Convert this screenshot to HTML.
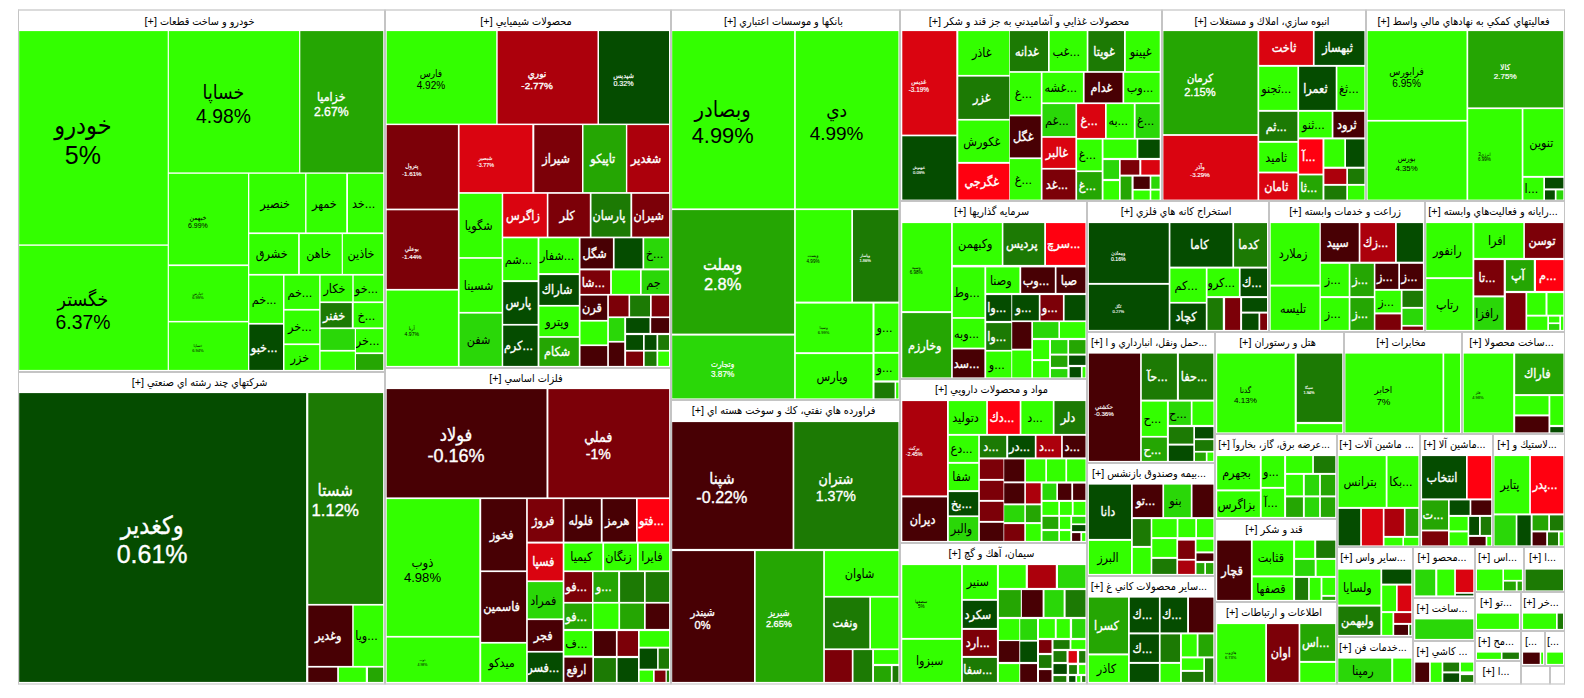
<!DOCTYPE html>
<html lang="fa"><head><meta charset="utf-8"><title>Market Map</title>
<style>
html,body{margin:0;padding:0;background:#fff;}
body{width:1584px;height:698px;position:relative;overflow:hidden;font-family:"Liberation Sans","DejaVu Sans Condensed","DejaVu Sans",sans-serif;font-stretch:condensed;direction:ltr;}
.s{position:absolute;box-sizing:border-box;border:1px solid #c4c4c4;background:#fff;}
.h{position:absolute;left:-4px;right:0;top:-1px;height:21px;line-height:21px;text-align:center;font-size:10.8px;color:#000;white-space:nowrap;overflow:hidden;}
.c{position:absolute;display:flex;flex-direction:column;align-items:center;justify-content:center;overflow:hidden;white-space:nowrap;text-align:center;color:#fff;-webkit-text-stroke:0.35px #fff;font-size:12.5px;line-height:1.2;}
.d{color:#000;-webkit-text-stroke:0;}
p{margin:0;display:flex;flex-direction:column;align-items:center;position:relative;}
.p{left:-10.5px;top:3px;}
.n{left:-2px;top:1px;}
.G5{fill:#33ff00;}
.G4{fill:#2ad708;}
.G3{fill:#25a603;}
.G2{fill:#1c7a04;}
.G1{fill:#054c00;}
.R0{fill:#480004;}
.R1{fill:#7c0008;}
.R2{fill:#ac000c;}
.R3{fill:#da0410;}
.R4{fill:#ff0010;}
</style></head><body>
<div class="s" style="left:18px;top:9px;width:367px;height:363px;border-top:2px solid #dbdbdb"><div class="h" style="top:-0.5px">[+] خودرو و ساخت قطعات</div></div>
<div class="s" style="left:18px;top:372px;width:367px;height:313px;border-bottom:2px solid #dedede"><div class="h">[+] شركتهاي چند رشته اي صنعتي</div></div>
<div class="s" style="left:385px;top:9px;width:286px;height:359px;border-top:2px solid #dbdbdb"><div class="h" style="top:-0.5px">[+] محصولات شيميايي</div></div>
<div class="s" style="left:385px;top:368px;width:286px;height:317px;border-bottom:2px solid #dedede"><div class="h">[+] فلزات اساسي</div></div>
<div class="s" style="left:671px;top:9px;width:229px;height:391px;border-top:2px solid #dbdbdb"><div class="h" style="top:-0.5px">[+] بانكها و موسسات اعتباري</div></div>
<div class="s" style="left:671px;top:400px;width:229px;height:285px;border-bottom:2px solid #dedede"><div class="h">[+] فراورده هاي نفتي، كك و سوخت هسته اي</div></div>
<div class="s" style="left:900px;top:9px;width:262px;height:192px;border-top:2px solid #dbdbdb"><div class="h" style="top:-0.5px">[+] محصولات غذايي و آشاميدني به جز قند و شكر</div></div>
<div class="s" style="left:1162px;top:9px;width:204px;height:192px;border-top:2px solid #dbdbdb"><div class="h" style="top:-0.5px">[+] انبوه سازي، املاك و مستغلات</div></div>
<div class="s" style="left:1366px;top:9px;width:199px;height:192px;border-top:2px solid #dbdbdb"><div class="h" style="top:-0.5px">[+] فعاليتهاي كمكي به نهادهاي مالي واسط</div></div>
<div class="s" style="left:900px;top:201px;width:187px;height:178px"><div class="h">[+] سرمايه گذاريها</div></div>
<div class="s" style="left:1087px;top:201px;width:182px;height:131px"><div class="h">[+] استخراج كانه هاي فلزي</div></div>
<div class="s" style="left:1269px;top:201px;width:156px;height:131px"><div class="h">[+] زراعت و خدمات وابسته</div></div>
<div class="s" style="left:1425px;top:201px;width:140px;height:131px"><div class="h">[+] رايانه و فعاليت‌هاي وابسته...</div></div>
<div class="s" style="left:1087px;top:332px;width:128px;height:131px"><div class="h" style="font-size:10.4px">[+] حمل ونقل، انبارداري و ا...</div></div>
<div class="s" style="left:1215px;top:332px;width:129px;height:102px"><div class="h">[+] هتل و رستوران</div></div>
<div class="s" style="left:1344px;top:332px;width:118px;height:102px"><div class="h">[+] مخابرات</div></div>
<div class="s" style="left:1462px;top:332px;width:103px;height:102px"><div class="h">[+] ساخت محصولا...</div></div>
<div class="s" style="left:900px;top:379px;width:187px;height:164px"><div class="h">[+] مواد و محصولات دارويي</div></div>
<div class="s" style="left:900px;top:543px;width:187px;height:142px;border-bottom:2px solid #dedede"><div class="h">[+] سيمان، آهك و گچ</div></div>
<div class="s" style="left:1087px;top:463px;width:128px;height:113px"><div class="h">[+] بيمه وصندوق بازنشس...</div></div>
<div class="s" style="left:1087px;top:576px;width:128px;height:109px;border-bottom:2px solid #dedede"><div class="h">[+] ساير محصولات كاني غ...</div></div>
<div class="s" style="left:1215px;top:434px;width:122px;height:85px"><div class="h" style="font-size:10.4px">[+] عرضه برق، گاز، بخاروآ...</div></div>
<div class="s" style="left:1215px;top:519px;width:122px;height:83px"><div class="h">[+] قند و شكر</div></div>
<div class="s" style="left:1215px;top:602px;width:122px;height:83px;border-bottom:2px solid #dedede"><div class="h">[+] اطلاعات و ارتباطات</div></div>
<div class="s" style="left:1337px;top:434px;width:83px;height:113px"><div class="h">[+] ماشين آلات ...</div></div>
<div class="s" style="left:1420px;top:434px;width:73px;height:113px"><div class="h">[+] ماشين آلا...</div></div>
<div class="s" style="left:1493px;top:434px;width:72px;height:113px"><div class="h">[+] لاستيك و...</div></div>
<div class="s" style="left:1337px;top:547px;width:76px;height:90px"><div class="h">[+] ساير واس...</div></div>
<div class="s" style="left:1337px;top:637px;width:76px;height:48px;border-bottom:2px solid #dedede"><div class="h">[+] خدمات فن...</div></div>
<div class="s" style="left:1413px;top:547px;width:62px;height:51px"><div class="h">[+] محصو...</div></div>
<div class="s" style="left:1413px;top:598px;width:62px;height:43px"><div class="h">[+] ساخت...</div></div>
<div class="s" style="left:1413px;top:641px;width:62px;height:44px;border-bottom:2px solid #dedede"><div class="h">[+] كاشي ...</div></div>
<div class="s" style="left:1475px;top:547px;width:49px;height:45px"><div class="h">[+] اس...</div></div>
<div class="s" style="left:1524px;top:547px;width:41px;height:45px"><div class="h">[+] ا...</div></div>
<div class="s" style="left:1475px;top:592px;width:46px;height:39px"><div class="h">[+] تو...</div></div>
<div class="s" style="left:1521px;top:592px;width:44px;height:39px"><div class="h">[+] خر...</div></div>
<div class="s" style="left:1475px;top:631px;width:46px;height:30px"><div class="h">[+] مح...</div></div>
<div class="s" style="left:1521px;top:631px;width:24px;height:35px"><div class="h">[...</div></div>
<div class="s" style="left:1545px;top:631px;width:20px;height:35px"><div class="h">[...</div></div>
<div class="s" style="left:1475px;top:661px;width:46px;height:24px;border-bottom:2px solid #dedede"><div class="h">[+] ا...</div></div>
<div class="s" style="left:1521px;top:666px;width:29px;height:19px;border-bottom:2px solid #dedede"></div>
<div class="s" style="left:1550px;top:666px;width:15px;height:19px;border-bottom:2px solid #dedede"></div>
<svg width="1584" height="698" viewBox="0 0 1584 698" style="position:absolute;left:0;top:0">
<rect class="G5" x="19.2" y="31.1" width="148.5" height="213.3"/>
<rect class="G5" x="168.9" y="31.1" width="130.2" height="141.3"/>
<rect class="G3" x="300.3" y="31.1" width="82.9" height="141.3"/>
<rect class="G5" x="19.2" y="245.8" width="148.5" height="124.1"/>
<rect class="G5" x="168.9" y="173.8" width="79.1" height="90.6"/>
<rect class="G5" x="168.9" y="266.1" width="79.1" height="54.8"/>
<rect class="G5" x="168.9" y="322.4" width="79.1" height="47.5"/>
<rect class="G5" x="249.3" y="173.8" width="55.8" height="58.6"/>
<rect class="G5" x="306.5" y="173.8" width="39.7" height="58.6"/>
<rect class="G5" x="348.0" y="173.8" width="35.2" height="58.6"/>
<rect class="G5" x="249.3" y="234.1" width="48.8" height="39.8"/>
<rect class="G5" x="299.8" y="234.1" width="41.9" height="39.8"/>
<rect class="G5" x="342.9" y="234.1" width="40.2" height="39.8"/>
<rect class="G5" x="249.3" y="275.6" width="33.7" height="47.3"/>
<rect class="G5" x="284.5" y="275.6" width="34.7" height="33.3"/>
<rect class="G5" x="320.6" y="275.6" width="31.7" height="25.8"/>
<rect class="G5" x="353.7" y="275.6" width="29.5" height="25.8"/>
<rect class="G2" x="320.6" y="303.1" width="31.2" height="24.3"/>
<rect class="G5" x="353.7" y="303.1" width="29.5" height="24.3"/>
<rect class="G5" x="284.5" y="310.6" width="34.7" height="32.8"/>
<rect class="G5" x="284.5" y="345.1" width="34.7" height="24.8"/>
<rect class="G1" x="249.3" y="324.6" width="33.7" height="45.3"/>
<rect class="G4" x="320.6" y="329.1" width="34.2" height="20.8"/>
<rect class="G5" x="320.6" y="351.6" width="34.2" height="18.3"/>
<rect class="G5" x="356.0" y="329.1" width="27.2" height="23.3"/>
<rect class="G3" x="356.0" y="354.1" width="27.2" height="15.8"/>
<rect class="G1" x="19.2" y="393.1" width="286.9" height="288.8"/>
<rect class="G2" x="308.3" y="393.1" width="74.8" height="210.8"/>
<rect class="R0" x="308.3" y="605.6" width="43.9" height="60.3"/>
<rect class="G5" x="353.7" y="605.6" width="29.5" height="60.3"/>
<rect class="R0" x="308.3" y="667.6" width="28.9" height="14.3"/>
<rect class="G5" x="338.9" y="667.6" width="26.9" height="14.3"/>
<rect class="G3" x="368.0" y="667.6" width="15.1" height="14.3"/>
<rect class="G5" x="386.7" y="31.1" width="109.5" height="92.5"/>
<rect class="R2" x="497.7" y="31.1" width="99.8" height="92.5"/>
<rect class="G1" x="599.0" y="31.1" width="70.0" height="92.5"/>
<rect class="R1" x="386.7" y="125.1" width="71.2" height="83.5"/>
<rect class="R3" x="459.6" y="125.1" width="72.7" height="67.0"/>
<rect class="R1" x="534.3" y="125.1" width="47.7" height="67.0"/>
<rect class="G3" x="583.5" y="125.1" width="42.4" height="67.0"/>
<rect class="R2" x="627.3" y="125.1" width="41.7" height="67.0"/>
<rect class="R1" x="386.7" y="210.3" width="71.2" height="78.6"/>
<rect class="G5" x="386.7" y="290.6" width="71.2" height="75.3"/>
<rect class="G5" x="459.6" y="193.8" width="42.1" height="63.3"/>
<rect class="G5" x="459.6" y="258.8" width="42.1" height="53.1"/>
<rect class="G4" x="459.6" y="313.6" width="42.1" height="52.3"/>
<rect class="R3" x="503.2" y="193.8" width="43.6" height="42.8"/>
<rect class="R1" x="548.4" y="193.8" width="41.4" height="42.8"/>
<rect class="G2" x="591.5" y="193.8" width="38.9" height="42.8"/>
<rect class="R1" x="632.2" y="193.8" width="36.9" height="42.8"/>
<rect class="G5" x="503.2" y="238.3" width="34.4" height="41.8"/>
<rect class="G5" x="539.4" y="238.3" width="39.4" height="34.8"/>
<rect class="R0" x="580.5" y="238.3" width="32.4" height="30.1"/>
<rect class="G1" x="614.6" y="238.3" width="27.9" height="30.1"/>
<rect class="G4" x="644.2" y="238.3" width="24.9" height="30.1"/>
<rect class="R1" x="580.5" y="270.4" width="29.6" height="23.5"/>
<rect class="G5" x="611.9" y="270.4" width="28.1" height="23.5"/>
<rect class="G4" x="641.7" y="270.4" width="27.4" height="23.5"/>
<rect class="G1" x="503.2" y="282.1" width="34.4" height="41.8"/>
<rect class="G1" x="503.2" y="325.6" width="34.4" height="40.3"/>
<rect class="G1" x="539.4" y="275.1" width="39.4" height="29.8"/>
<rect class="G5" x="539.4" y="306.6" width="39.4" height="29.5"/>
<rect class="G3" x="539.4" y="337.8" width="39.4" height="28.1"/>
<rect class="R0" x="580.5" y="295.6" width="26.7" height="24.3"/>
<rect class="R1" x="608.9" y="295.6" width="19.6" height="20.8"/>
<rect class="G2" x="630.1" y="295.6" width="19.9" height="20.8"/>
<rect class="R1" x="651.7" y="295.6" width="17.4" height="20.8"/>
<rect class="G5" x="580.5" y="321.6" width="26.7" height="22.8"/>
<rect class="G4" x="608.9" y="318.1" width="15.3" height="22.8"/>
<rect class="G1" x="626.1" y="318.1" width="23.4" height="14.8"/>
<rect class="R0" x="651.2" y="318.1" width="17.9" height="14.8"/>
<rect class="R0" x="580.5" y="346.1" width="26.7" height="19.8"/>
<rect class="R0" x="608.9" y="342.6" width="15.3" height="23.3"/>
<rect class="G1" x="626.1" y="335.1" width="16.9" height="14.8"/>
<rect class="G1" x="644.7" y="335.1" width="11.8" height="14.8"/>
<rect class="G2" x="658.2" y="335.1" width="10.8" height="14.8"/>
<rect class="R1" x="626.1" y="351.6" width="16.9" height="14.3"/>
<rect class="G2" x="644.7" y="351.6" width="11.8" height="14.3"/>
<rect class="G5" x="658.2" y="351.6" width="10.8" height="14.3"/>
<rect class="R0" x="386.7" y="389.1" width="159.8" height="108.3"/>
<rect class="R1" x="548.4" y="389.1" width="120.7" height="108.3"/>
<rect class="G5" x="386.7" y="499.1" width="92.6" height="136.8"/>
<rect class="G5" x="386.7" y="637.6" width="92.6" height="44.3"/>
<rect class="R0" x="481.2" y="499.1" width="44.9" height="71.3"/>
<rect class="R0" x="481.2" y="572.1" width="44.9" height="69.8"/>
<rect class="G5" x="481.2" y="643.6" width="44.9" height="38.3"/>
<rect class="R1" x="527.8" y="499.1" width="34.9" height="42.5"/>
<rect class="R0" x="564.4" y="499.1" width="36.4" height="42.5"/>
<rect class="R0" x="602.6" y="499.1" width="33.4" height="42.5"/>
<rect class="R4" x="637.7" y="499.1" width="31.4" height="42.5"/>
<rect class="R3" x="527.8" y="543.6" width="34.9" height="36.8"/>
<rect class="G4" x="527.8" y="582.1" width="34.9" height="36.3"/>
<rect class="R0" x="527.8" y="620.1" width="34.9" height="30.8"/>
<rect class="G1" x="527.8" y="652.6" width="34.9" height="29.3"/>
<rect class="G5" x="564.4" y="543.6" width="37.9" height="26.8"/>
<rect class="G5" x="604.1" y="543.6" width="32.9" height="26.8"/>
<rect class="G5" x="638.7" y="543.6" width="30.4" height="26.8"/>
<rect class="R1" x="564.4" y="572.1" width="27.6" height="29.8"/>
<rect class="G3" x="593.5" y="572.1" width="24.6" height="29.8"/>
<rect class="G2" x="620.1" y="572.1" width="23.9" height="29.8"/>
<rect class="G2" x="645.7" y="572.1" width="23.4" height="29.8"/>
<rect class="G3" x="564.4" y="603.6" width="27.6" height="25.3"/>
<rect class="G5" x="593.5" y="603.6" width="24.9" height="25.3"/>
<rect class="G3" x="620.1" y="603.6" width="23.9" height="25.3"/>
<rect class="R0" x="645.7" y="603.6" width="23.4" height="25.3"/>
<rect class="G5" x="564.4" y="631.1" width="27.9" height="24.3"/>
<rect class="R0" x="594.0" y="631.1" width="21.9" height="24.8"/>
<rect class="R1" x="617.6" y="631.1" width="20.4" height="24.8"/>
<rect class="G5" x="639.7" y="631.1" width="29.4" height="15.6"/>
<rect class="G1" x="639.7" y="648.6" width="17.4" height="20.1"/>
<rect class="G2" x="658.7" y="648.6" width="10.3" height="20.1"/>
<rect class="R0" x="564.4" y="657.6" width="27.9" height="24.3"/>
<rect class="G2" x="594.0" y="658.1" width="21.9" height="23.8"/>
<rect class="G1" x="617.6" y="658.1" width="20.4" height="23.8"/>
<rect class="G5" x="639.7" y="670.6" width="13.3" height="11.3"/>
<rect class="R1" x="654.7" y="670.6" width="10.8" height="11.3"/>
<rect class="G2" x="666.8" y="670.6" width="2.3" height="11.3"/>
<rect class="G5" x="672.2" y="31.1" width="121.9" height="177.3"/>
<rect class="G5" x="795.8" y="31.1" width="102.6" height="177.3"/>
<rect class="G3" x="672.2" y="210.1" width="121.9" height="123.5"/>
<rect class="G4" x="672.2" y="335.6" width="121.9" height="62.8"/>
<rect class="G5" x="795.8" y="210.1" width="55.5" height="91.5"/>
<rect class="G2" x="853.0" y="210.1" width="45.4" height="91.5"/>
<rect class="G5" x="795.8" y="303.6" width="76.7" height="48.6"/>
<rect class="G5" x="874.5" y="303.6" width="23.9" height="48.3"/>
<rect class="G5" x="795.8" y="354.1" width="76.7" height="44.3"/>
<rect class="G5" x="874.5" y="353.8" width="23.9" height="26.6"/>
<rect class="G2" x="874.5" y="382.6" width="20.1" height="15.8"/>
<rect class="G5" x="896.1" y="382.6" width="2.3" height="15.8"/>
<rect class="R0" x="672.2" y="422.1" width="120.4" height="126.8"/>
<rect class="G2" x="794.3" y="422.1" width="104.1" height="126.8"/>
<rect class="R0" x="672.2" y="551.1" width="81.8" height="130.8"/>
<rect class="G3" x="755.7" y="551.1" width="67.5" height="130.8"/>
<rect class="G5" x="824.9" y="551.1" width="73.5" height="44.8"/>
<rect class="G2" x="824.9" y="597.6" width="44.4" height="50.8"/>
<rect class="G5" x="871.0" y="597.6" width="27.4" height="50.8"/>
<rect class="R1" x="824.9" y="650.1" width="26.9" height="31.8"/>
<rect class="G2" x="853.5" y="650.1" width="18.6" height="31.8"/>
<rect class="G5" x="874.0" y="650.1" width="24.4" height="13.8"/>
<rect class="G3" x="874.0" y="666.1" width="16.9" height="15.8"/>
<rect class="G2" x="892.6" y="666.1" width="5.8" height="15.8"/>
<rect class="R3" x="902.3" y="31.1" width="54.0" height="103.5"/>
<rect class="G1" x="902.3" y="136.3" width="54.0" height="63.3"/>
<rect class="G5" x="958.3" y="31.1" width="51.0" height="43.8"/>
<rect class="G2" x="958.3" y="76.6" width="51.0" height="42.3"/>
<rect class="G5" x="958.3" y="120.6" width="51.0" height="41.3"/>
<rect class="R4" x="958.3" y="163.8" width="51.0" height="35.8"/>
<rect class="G2" x="1009.9" y="31.1" width="38.1" height="40.0"/>
<rect class="G5" x="1049.7" y="31.1" width="37.0" height="40.0"/>
<rect class="G2" x="1088.4" y="31.1" width="35.6" height="40.0"/>
<rect class="G5" x="1125.8" y="31.1" width="33.9" height="40.0"/>
<rect class="G5" x="1009.9" y="72.8" width="30.9" height="41.8"/>
<rect class="R0" x="1009.9" y="116.3" width="30.9" height="41.1"/>
<rect class="G5" x="1009.9" y="159.1" width="30.9" height="40.5"/>
<rect class="G5" x="1042.5" y="72.8" width="40.4" height="29.6"/>
<rect class="R0" x="1084.6" y="72.8" width="37.9" height="29.6"/>
<rect class="G5" x="1124.2" y="72.8" width="35.4" height="29.6"/>
<rect class="G4" x="1042.5" y="104.1" width="32.9" height="32.0"/>
<rect class="R3" x="1077.1" y="104.1" width="27.9" height="33.8"/>
<rect class="G5" x="1106.7" y="104.1" width="27.1" height="33.8"/>
<rect class="G4" x="1135.6" y="104.1" width="24.1" height="33.8"/>
<rect class="R3" x="1042.5" y="137.8" width="32.9" height="30.1"/>
<rect class="R1" x="1042.5" y="169.6" width="32.9" height="30.0"/>
<rect class="G5" x="1077.1" y="139.6" width="24.6" height="30.8"/>
<rect class="G3" x="1077.1" y="172.1" width="24.6" height="27.5"/>
<rect class="G5" x="1103.5" y="139.6" width="33.1" height="18.3"/>
<rect class="G1" x="1138.3" y="139.6" width="21.4" height="18.3"/>
<rect class="G4" x="1103.5" y="160.1" width="15.5" height="18.8"/>
<rect class="R1" x="1120.7" y="160.1" width="18.6" height="14.5"/>
<rect class="R3" x="1141.3" y="160.1" width="18.4" height="14.5"/>
<rect class="G5" x="1103.5" y="181.1" width="15.5" height="18.5"/>
<rect class="G3" x="1120.7" y="176.6" width="10.8" height="23.0"/>
<rect class="R0" x="1133.6" y="176.6" width="16.1" height="12.3"/>
<rect class="G4" x="1151.3" y="176.6" width="8.3" height="12.1"/>
<rect class="G5" x="1133.6" y="190.6" width="16.1" height="9.0"/>
<rect class="G5" x="1151.3" y="190.6" width="8.3" height="9.0"/>
<rect class="G3" x="1163.4" y="31.1" width="94.1" height="103.0"/>
<rect class="R3" x="1163.4" y="135.9" width="94.1" height="63.7"/>
<rect class="R3" x="1259.2" y="31.1" width="53.7" height="33.8"/>
<rect class="G1" x="1314.6" y="31.1" width="49.8" height="33.8"/>
<rect class="G5" x="1259.2" y="66.8" width="38.2" height="43.1"/>
<rect class="G1" x="1299.1" y="66.8" width="36.6" height="43.1"/>
<rect class="G5" x="1337.4" y="66.8" width="26.9" height="43.1"/>
<rect class="G2" x="1259.2" y="111.8" width="38.2" height="29.1"/>
<rect class="G5" x="1299.1" y="111.8" width="32.6" height="25.6"/>
<rect class="R0" x="1333.4" y="111.8" width="30.9" height="25.6"/>
<rect class="G5" x="1259.2" y="142.8" width="38.2" height="28.8"/>
<rect class="R3" x="1259.2" y="173.4" width="38.2" height="26.2"/>
<rect class="R4" x="1299.1" y="139.4" width="23.4" height="34.2"/>
<rect class="G3" x="1299.1" y="175.4" width="23.4" height="24.2"/>
<rect class="G5" x="1324.4" y="139.4" width="19.9" height="27.3"/>
<rect class="G1" x="1346.0" y="139.4" width="18.4" height="27.3"/>
<rect class="R2" x="1324.4" y="168.8" width="21.9" height="15.1"/>
<rect class="G2" x="1348.0" y="168.8" width="16.4" height="15.1"/>
<rect class="G2" x="1324.4" y="185.8" width="21.9" height="13.8"/>
<rect class="G5" x="1348.0" y="185.8" width="16.4" height="13.8"/>
<rect class="G5" x="1367.7" y="31.1" width="98.8" height="88.8"/>
<rect class="G5" x="1367.7" y="121.6" width="98.8" height="78.0"/>
<rect class="G3" x="1468.2" y="31.1" width="95.1" height="76.3"/>
<rect class="G5" x="1468.2" y="109.1" width="53.5" height="90.5"/>
<rect class="G5" x="1523.4" y="109.1" width="39.9" height="66.8"/>
<rect class="G5" x="1523.4" y="177.8" width="19.9" height="21.8"/>
<rect class="G1" x="1545.0" y="177.8" width="18.4" height="10.6"/>
<rect class="G1" x="1545.0" y="190.4" width="9.8" height="9.2"/>
<rect class="G4" x="1556.5" y="190.4" width="6.8" height="9.2"/>
<rect class="G5" x="902.3" y="223.1" width="48.8" height="88.0"/>
<rect class="G3" x="902.3" y="313.1" width="48.8" height="64.3"/>
<rect class="G5" x="952.8" y="223.1" width="49.0" height="41.8"/>
<rect class="G2" x="1003.4" y="223.1" width="40.8" height="41.8"/>
<rect class="R4" x="1046.0" y="223.1" width="39.4" height="41.8"/>
<rect class="G5" x="952.8" y="267.4" width="31.6" height="49.7"/>
<rect class="G5" x="952.8" y="318.8" width="31.6" height="28.8"/>
<rect class="R0" x="952.8" y="349.4" width="31.6" height="28.0"/>
<rect class="G5" x="986.2" y="267.4" width="33.2" height="25.5"/>
<rect class="R0" x="1021.2" y="267.4" width="33.6" height="25.5"/>
<rect class="R0" x="1056.5" y="267.4" width="28.9" height="25.5"/>
<rect class="G1" x="986.2" y="295.1" width="25.1" height="25.8"/>
<rect class="G1" x="1012.2" y="295.1" width="26.6" height="25.3"/>
<rect class="R1" x="1040.5" y="295.1" width="22.4" height="25.3"/>
<rect class="G1" x="1064.6" y="295.1" width="20.9" height="25.3"/>
<rect class="G2" x="986.2" y="323.1" width="25.1" height="26.8"/>
<rect class="G5" x="986.2" y="351.6" width="25.1" height="25.8"/>
<rect class="R0" x="1012.2" y="322.1" width="19.1" height="26.6"/>
<rect class="G5" x="1012.2" y="350.6" width="19.1" height="26.8"/>
<rect class="G4" x="1033.0" y="322.1" width="25.4" height="15.8"/>
<rect class="G5" x="1060.0" y="322.1" width="25.4" height="15.8"/>
<rect class="G5" x="1033.0" y="340.1" width="16.1" height="19.0"/>
<rect class="G5" x="1033.0" y="361.1" width="16.1" height="16.3"/>
<rect class="G4" x="1051.0" y="340.1" width="16.4" height="13.5"/>
<rect class="G3" x="1069.1" y="340.1" width="16.4" height="13.5"/>
<rect class="G3" x="1051.0" y="355.6" width="16.4" height="11.3"/>
<rect class="G1" x="1069.1" y="355.6" width="16.4" height="9.3"/>
<rect class="G4" x="1051.0" y="369.1" width="16.4" height="8.3"/>
<rect class="G1" x="1069.6" y="367.1" width="11.3" height="10.3"/>
<rect class="G5" x="1082.6" y="367.1" width="2.8" height="10.3"/>
<rect class="G1" x="1088.9" y="223.1" width="79.8" height="59.8"/>
<rect class="G1" x="1088.9" y="284.8" width="79.8" height="45.1"/>
<rect class="G1" x="1170.4" y="223.1" width="62.0" height="43.5"/>
<rect class="G2" x="1234.1" y="223.1" width="32.9" height="43.5"/>
<rect class="G5" x="1170.4" y="268.6" width="35.4" height="33.3"/>
<rect class="G1" x="1170.4" y="303.6" width="35.4" height="26.3"/>
<rect class="G5" x="1207.5" y="268.6" width="31.4" height="27.5"/>
<rect class="G1" x="1240.6" y="268.6" width="26.4" height="27.5"/>
<rect class="G2" x="1207.5" y="298.1" width="15.3" height="31.8"/>
<rect class="R1" x="1225.1" y="298.1" width="15.0" height="31.8"/>
<rect class="G1" x="1242.1" y="298.1" width="24.9" height="13.5"/>
<rect class="G1" x="1242.1" y="313.6" width="16.4" height="16.3"/>
<rect class="R1" x="1260.2" y="313.6" width="6.8" height="16.3"/>
<rect class="G5" x="1270.7" y="223.1" width="48.8" height="61.5"/>
<rect class="G5" x="1270.7" y="286.6" width="48.8" height="43.3"/>
<rect class="R0" x="1320.8" y="223.1" width="37.9" height="38.6"/>
<rect class="R2" x="1360.4" y="223.1" width="34.6" height="38.6"/>
<rect class="G1" x="1396.8" y="223.1" width="26.1" height="38.6"/>
<rect class="G5" x="1320.8" y="263.8" width="27.9" height="32.3"/>
<rect class="G3" x="1350.4" y="263.8" width="23.4" height="32.3"/>
<rect class="R0" x="1375.4" y="263.8" width="22.9" height="25.1"/>
<rect class="R0" x="1400.0" y="263.8" width="22.9" height="25.1"/>
<rect class="G5" x="1320.8" y="298.1" width="27.9" height="31.8"/>
<rect class="G3" x="1350.4" y="298.1" width="23.4" height="31.8"/>
<rect class="G5" x="1375.4" y="290.8" width="25.4" height="21.6"/>
<rect class="G2" x="1402.5" y="290.8" width="20.4" height="16.1"/>
<rect class="G4" x="1402.5" y="308.8" width="20.4" height="16.1"/>
<rect class="R1" x="1402.5" y="326.6" width="20.4" height="3.3"/>
<rect class="R1" x="1375.4" y="314.4" width="25.4" height="15.5"/>
<rect class="G5" x="1426.3" y="223.1" width="46.2" height="54.1"/>
<rect class="G5" x="1426.3" y="279.1" width="46.2" height="50.8"/>
<rect class="G5" x="1474.3" y="223.1" width="49.0" height="34.8"/>
<rect class="R1" x="1524.9" y="223.1" width="38.4" height="34.8"/>
<rect class="R1" x="1474.3" y="260.1" width="29.4" height="35.3"/>
<rect class="G4" x="1474.3" y="297.4" width="29.4" height="32.5"/>
<rect class="G3" x="1505.9" y="260.1" width="27.9" height="30.8"/>
<rect class="R4" x="1536.0" y="260.1" width="27.4" height="30.8"/>
<rect class="R1" x="1505.9" y="293.1" width="19.6" height="36.8"/>
<rect class="G5" x="1527.2" y="293.1" width="18.3" height="21.6"/>
<rect class="G5" x="1547.5" y="293.1" width="15.8" height="21.6"/>
<rect class="G5" x="1527.2" y="316.6" width="20.1" height="13.3"/>
<rect class="G5" x="1549.0" y="316.6" width="10.3" height="5.8"/>
<rect class="G4" x="1549.0" y="324.1" width="10.3" height="5.8"/>
<rect class="G5" x="1561.0" y="316.6" width="2.3" height="13.3"/>
<rect class="R0" x="1088.9" y="353.6" width="51.2" height="107.3"/>
<rect class="G2" x="1141.8" y="353.6" width="35.1" height="46.0"/>
<rect class="G2" x="1178.9" y="353.6" width="34.4" height="46.0"/>
<rect class="G5" x="1141.8" y="401.6" width="25.1" height="34.3"/>
<rect class="G3" x="1141.8" y="437.6" width="25.1" height="23.3"/>
<rect class="G4" x="1168.9" y="401.6" width="21.9" height="23.3"/>
<rect class="G5" x="1192.5" y="401.6" width="20.9" height="23.3"/>
<rect class="G2" x="1168.9" y="427.1" width="24.4" height="16.5"/>
<rect class="G1" x="1195.0" y="427.1" width="18.4" height="11.3"/>
<rect class="G1" x="1168.9" y="445.6" width="24.4" height="15.3"/>
<rect class="G2" x="1195.0" y="440.1" width="18.4" height="10.8"/>
<rect class="G3" x="1195.0" y="452.6" width="10.8" height="8.3"/>
<rect class="G5" x="1207.5" y="452.6" width="5.8" height="8.3"/>
<rect class="G5" x="1217.2" y="353.6" width="77.5" height="78.8"/>
<rect class="G2" x="1296.8" y="353.6" width="45.4" height="68.3"/>
<rect class="G5" x="1296.8" y="424.1" width="45.4" height="8.3"/>
<rect class="G5" x="1345.4" y="353.6" width="97.1" height="78.8"/>
<rect class="G5" x="1444.2" y="353.6" width="15.8" height="78.8"/>
<rect class="G5" x="1463.7" y="353.6" width="49.5" height="78.8"/>
<rect class="G3" x="1515.2" y="353.6" width="48.2" height="40.5"/>
<rect class="G5" x="1515.2" y="396.1" width="33.3" height="18.3"/>
<rect class="R0" x="1515.2" y="416.4" width="33.3" height="16.0"/>
<rect class="G5" x="1550.3" y="396.1" width="13.0" height="28.8"/>
<rect class="G1" x="1550.3" y="427.1" width="13.0" height="5.3"/>
<rect class="R2" x="902.3" y="401.1" width="44.7" height="94.3"/>
<rect class="R0" x="902.3" y="497.4" width="44.7" height="43.5"/>
<rect class="G5" x="948.8" y="401.1" width="37.4" height="32.8"/>
<rect class="R4" x="987.9" y="401.1" width="31.8" height="32.8"/>
<rect class="G5" x="1021.4" y="401.1" width="31.4" height="32.8"/>
<rect class="G2" x="1054.5" y="401.1" width="30.9" height="32.8"/>
<rect class="G5" x="948.8" y="435.8" width="29.4" height="26.1"/>
<rect class="G5" x="948.8" y="463.8" width="29.4" height="26.3"/>
<rect class="G1" x="948.8" y="492.1" width="29.4" height="23.3"/>
<rect class="G4" x="948.8" y="517.1" width="29.4" height="23.8"/>
<rect class="G2" x="979.9" y="435.8" width="26.3" height="21.6"/>
<rect class="G1" x="1008.2" y="435.8" width="26.6" height="21.6"/>
<rect class="R2" x="1036.5" y="435.8" width="24.6" height="21.6"/>
<rect class="R0" x="1062.8" y="435.8" width="22.7" height="21.6"/>
<rect class="R1" x="979.9" y="459.4" width="23.6" height="19.5"/>
<rect class="R1" x="979.9" y="480.8" width="23.6" height="19.1"/>
<rect class="R1" x="979.9" y="501.8" width="23.6" height="19.1"/>
<rect class="R0" x="979.9" y="522.8" width="23.6" height="18.1"/>
<rect class="R0" x="1004.2" y="459.4" width="20.1" height="22.0"/>
<rect class="G5" x="1025.9" y="459.4" width="19.4" height="22.0"/>
<rect class="G5" x="1047.0" y="459.4" width="18.4" height="22.0"/>
<rect class="G5" x="1067.1" y="459.4" width="18.4" height="22.0"/>
<rect class="R0" x="1004.2" y="483.3" width="20.1" height="20.1"/>
<rect class="R2" x="1025.9" y="483.3" width="14.8" height="20.1"/>
<rect class="G4" x="1042.5" y="483.6" width="13.8" height="16.3"/>
<rect class="R0" x="1058.0" y="483.6" width="13.3" height="16.3"/>
<rect class="R0" x="1073.1" y="483.6" width="12.3" height="16.3"/>
<rect class="G4" x="1004.2" y="505.3" width="20.1" height="16.8"/>
<rect class="G3" x="1025.9" y="505.3" width="14.8" height="16.8"/>
<rect class="G5" x="1042.5" y="501.9" width="15.8" height="13.0"/>
<rect class="G5" x="1060.0" y="501.9" width="11.8" height="13.0"/>
<rect class="G5" x="1073.6" y="501.9" width="11.8" height="13.0"/>
<rect class="R1" x="1004.2" y="524.1" width="20.1" height="16.8"/>
<rect class="G5" x="1025.9" y="524.1" width="14.8" height="16.8"/>
<rect class="G3" x="1042.5" y="516.8" width="15.8" height="12.1"/>
<rect class="G5" x="1060.0" y="516.8" width="10.3" height="12.1"/>
<rect class="G4" x="1072.1" y="516.8" width="13.3" height="6.6"/>
<rect class="G1" x="1072.1" y="525.1" width="13.3" height="6.0"/>
<rect class="G4" x="1042.5" y="531.1" width="15.8" height="9.8"/>
<rect class="G5" x="1060.0" y="531.1" width="10.3" height="9.8"/>
<rect class="R0" x="1072.1" y="533.1" width="8.3" height="7.8"/>
<rect class="G5" x="1082.1" y="533.1" width="3.3" height="7.8"/>
<rect class="G5" x="902.3" y="565.1" width="58.8" height="72.8"/>
<rect class="G5" x="902.3" y="639.8" width="58.8" height="42.1"/>
<rect class="G5" x="962.8" y="565.1" width="34.1" height="33.8"/>
<rect class="G1" x="962.8" y="600.8" width="34.1" height="27.1"/>
<rect class="R1" x="962.8" y="629.9" width="34.1" height="26.0"/>
<rect class="G2" x="962.8" y="657.9" width="34.1" height="24.0"/>
<rect class="G5" x="998.9" y="565.1" width="26.8" height="22.8"/>
<rect class="R2" x="1027.9" y="565.1" width="27.9" height="22.8"/>
<rect class="G4" x="1058.0" y="565.1" width="27.4" height="22.8"/>
<rect class="G3" x="998.9" y="590.1" width="21.9" height="26.8"/>
<rect class="R0" x="1021.9" y="590.1" width="20.7" height="26.8"/>
<rect class="G4" x="1044.5" y="590.1" width="19.1" height="26.8"/>
<rect class="G2" x="1065.6" y="590.1" width="19.9" height="26.8"/>
<rect class="G5" x="998.9" y="619.1" width="20.4" height="20.8"/>
<rect class="G4" x="1020.2" y="619.1" width="16.8" height="20.8"/>
<rect class="G5" x="1039.0" y="619.1" width="15.8" height="18.8"/>
<rect class="G5" x="1056.7" y="619.1" width="13.1" height="18.8"/>
<rect class="G4" x="1072.1" y="619.1" width="13.3" height="18.8"/>
<rect class="R0" x="998.9" y="641.1" width="20.4" height="20.8"/>
<rect class="G1" x="1020.2" y="641.6" width="16.8" height="20.3"/>
<rect class="R1" x="1039.0" y="640.1" width="12.5" height="12.8"/>
<rect class="G2" x="1053.5" y="640.1" width="16.1" height="8.8"/>
<rect class="G5" x="1071.4" y="640.1" width="14.0" height="8.8"/>
<rect class="G2" x="1053.5" y="651.1" width="13.0" height="10.8"/>
<rect class="R3" x="1068.6" y="651.1" width="8.3" height="11.6"/>
<rect class="G2" x="1079.1" y="651.1" width="6.3" height="11.6"/>
<rect class="G2" x="1039.0" y="655.1" width="12.5" height="12.8"/>
<rect class="G1" x="1053.5" y="664.1" width="13.3" height="9.8"/>
<rect class="G2" x="1069.1" y="665.1" width="7.8" height="8.8"/>
<rect class="G5" x="1079.1" y="665.1" width="6.3" height="8.8"/>
<rect class="G5" x="998.9" y="664.1" width="20.4" height="17.8"/>
<rect class="R0" x="1020.2" y="664.1" width="16.8" height="17.8"/>
<rect class="R0" x="1039.0" y="670.1" width="12.5" height="11.8"/>
<rect class="G2" x="1053.5" y="676.1" width="12.8" height="5.8"/>
<rect class="G1" x="1069.1" y="676.1" width="6.3" height="5.8"/>
<rect class="G5" x="1077.1" y="676.1" width="3.3" height="5.8"/>
<rect class="G2" x="1082.1" y="676.1" width="3.3" height="5.8"/>
<rect class="G1" x="1088.9" y="484.6" width="42.1" height="54.3"/>
<rect class="G5" x="1088.9" y="540.9" width="42.1" height="33.0"/>
<rect class="R0" x="1132.8" y="484.6" width="29.6" height="32.5"/>
<rect class="G4" x="1164.1" y="484.6" width="26.7" height="32.5"/>
<rect class="R0" x="1192.5" y="484.6" width="20.9" height="32.5"/>
<rect class="G2" x="1132.8" y="519.1" width="17.9" height="26.8"/>
<rect class="G5" x="1132.8" y="547.9" width="17.9" height="26.0"/>
<rect class="G5" x="1152.3" y="519.1" width="24.4" height="18.0"/>
<rect class="G5" x="1178.4" y="519.1" width="16.9" height="18.0"/>
<rect class="G5" x="1197.0" y="519.1" width="16.4" height="18.0"/>
<rect class="G5" x="1152.3" y="539.1" width="24.1" height="17.8"/>
<rect class="G2" x="1152.3" y="558.9" width="24.1" height="15.0"/>
<rect class="R1" x="1178.1" y="540.6" width="16.7" height="18.3"/>
<rect class="R2" x="1178.1" y="560.6" width="16.7" height="13.3"/>
<rect class="G5" x="1196.5" y="539.6" width="16.9" height="11.8"/>
<rect class="R0" x="1196.5" y="553.4" width="16.9" height="7.5"/>
<rect class="G3" x="1196.5" y="563.1" width="7.8" height="10.8"/>
<rect class="G3" x="1206.0" y="563.1" width="7.3" height="10.8"/>
<rect class="G3" x="1088.9" y="597.6" width="39.1" height="55.8"/>
<rect class="G5" x="1088.9" y="655.4" width="39.1" height="26.5"/>
<rect class="G1" x="1129.8" y="597.6" width="29.1" height="34.8"/>
<rect class="G1" x="1160.6" y="597.6" width="26.5" height="34.8"/>
<rect class="R0" x="1189.0" y="597.6" width="24.4" height="34.8"/>
<rect class="G1" x="1129.8" y="634.4" width="29.1" height="27.5"/>
<rect class="G1" x="1129.8" y="663.9" width="29.1" height="18.0"/>
<rect class="G2" x="1160.6" y="634.4" width="19.4" height="27.5"/>
<rect class="G5" x="1181.9" y="634.4" width="14.8" height="22.0"/>
<rect class="G3" x="1198.5" y="634.4" width="14.8" height="22.0"/>
<rect class="G5" x="1160.6" y="663.9" width="19.4" height="18.0"/>
<rect class="G5" x="1181.9" y="658.4" width="21.4" height="11.5"/>
<rect class="G2" x="1181.9" y="671.9" width="21.4" height="10.0"/>
<rect class="G2" x="1205.0" y="658.4" width="8.3" height="23.5"/>
<rect class="G5" x="1217.2" y="456.1" width="42.7" height="33.3"/>
<rect class="G5" x="1217.2" y="491.4" width="42.7" height="25.5"/>
<rect class="G5" x="1261.7" y="456.1" width="22.4" height="30.8"/>
<rect class="G5" x="1261.7" y="488.8" width="22.4" height="28.1"/>
<rect class="G5" x="1286.1" y="456.1" width="26.1" height="16.8"/>
<rect class="G2" x="1313.9" y="456.1" width="21.4" height="16.8"/>
<rect class="G5" x="1286.1" y="474.9" width="16.8" height="20.5"/>
<rect class="G4" x="1304.8" y="474.9" width="14.3" height="20.5"/>
<rect class="G3" x="1320.9" y="474.9" width="14.3" height="20.5"/>
<rect class="G3" x="1286.1" y="497.4" width="16.8" height="19.5"/>
<rect class="G4" x="1304.8" y="497.4" width="14.3" height="19.5"/>
<rect class="G3" x="1320.9" y="497.4" width="14.3" height="19.5"/>
<rect class="R0" x="1217.2" y="540.6" width="33.7" height="59.3"/>
<rect class="G5" x="1252.7" y="540.6" width="40.4" height="34.8"/>
<rect class="G5" x="1252.7" y="577.4" width="40.4" height="22.5"/>
<rect class="G5" x="1295.1" y="540.6" width="19.1" height="17.3"/>
<rect class="G2" x="1316.2" y="540.6" width="19.1" height="17.3"/>
<rect class="G4" x="1295.1" y="559.9" width="19.6" height="16.0"/>
<rect class="G5" x="1316.6" y="559.9" width="18.7" height="16.0"/>
<rect class="G2" x="1295.1" y="577.9" width="13.0" height="22.0"/>
<rect class="G5" x="1309.8" y="577.9" width="10.8" height="22.0"/>
<rect class="G5" x="1322.4" y="577.9" width="12.8" height="17.0"/>
<rect class="G3" x="1322.4" y="596.8" width="12.8" height="3.1"/>
<rect class="G5" x="1217.2" y="624.1" width="48.0" height="57.8"/>
<rect class="R1" x="1267.0" y="624.1" width="31.6" height="57.8"/>
<rect class="G3" x="1300.3" y="624.1" width="34.9" height="36.8"/>
<rect class="G5" x="1300.3" y="662.9" width="34.9" height="19.0"/>
<rect class="G5" x="1338.6" y="456.1" width="47.1" height="50.8"/>
<rect class="G5" x="1387.5" y="456.1" width="30.9" height="50.8"/>
<rect class="G1" x="1338.6" y="508.9" width="21.6" height="36.5"/>
<rect class="R3" x="1361.9" y="508.9" width="20.9" height="36.5"/>
<rect class="R2" x="1384.5" y="508.9" width="19.4" height="27.0"/>
<rect class="G3" x="1405.5" y="508.9" width="12.8" height="27.0"/>
<rect class="G5" x="1384.5" y="537.8" width="17.9" height="7.6"/>
<rect class="G5" x="1404.0" y="537.8" width="14.3" height="7.6"/>
<rect class="G1" x="1422.1" y="456.1" width="43.9" height="42.3"/>
<rect class="R4" x="1467.7" y="456.1" width="23.4" height="42.3"/>
<rect class="G3" x="1422.1" y="500.4" width="25.9" height="29.2"/>
<rect class="R1" x="1422.1" y="531.4" width="25.9" height="14.0"/>
<rect class="G1" x="1449.7" y="500.4" width="19.9" height="14.5"/>
<rect class="R0" x="1471.3" y="500.4" width="19.9" height="14.5"/>
<rect class="G5" x="1449.7" y="516.9" width="17.9" height="13.5"/>
<rect class="G1" x="1469.2" y="516.9" width="9.8" height="18.0"/>
<rect class="G2" x="1480.8" y="516.9" width="10.3" height="18.0"/>
<rect class="G5" x="1449.7" y="532.4" width="17.9" height="13.0"/>
<rect class="R0" x="1469.2" y="536.9" width="16.4" height="8.5"/>
<rect class="G5" x="1487.3" y="536.9" width="3.8" height="8.5"/>
<rect class="G5" x="1494.5" y="456.1" width="34.7" height="57.3"/>
<rect class="R4" x="1530.9" y="456.1" width="32.4" height="57.3"/>
<rect class="G4" x="1494.5" y="515.4" width="21.2" height="30.0"/>
<rect class="G1" x="1517.4" y="515.4" width="13.3" height="30.0"/>
<rect class="G3" x="1532.6" y="515.4" width="15.6" height="15.0"/>
<rect class="G2" x="1550.0" y="515.4" width="13.3" height="15.0"/>
<rect class="R0" x="1532.6" y="532.4" width="13.6" height="13.0"/>
<rect class="G2" x="1548.0" y="532.4" width="10.0" height="13.0"/>
<rect class="G5" x="1559.7" y="532.4" width="3.6" height="13.0"/>
<rect class="G5" x="1338.3" y="569.6" width="42.1" height="35.0"/>
<rect class="G2" x="1338.3" y="606.6" width="42.1" height="28.3"/>
<rect class="G1" x="1382.2" y="569.6" width="29.1" height="14.0"/>
<rect class="G5" x="1382.2" y="585.6" width="13.8" height="25.5"/>
<rect class="R3" x="1397.7" y="585.6" width="13.5" height="25.5"/>
<rect class="G5" x="1382.2" y="613.1" width="10.3" height="21.8"/>
<rect class="R2" x="1394.2" y="613.1" width="17.1" height="9.8"/>
<rect class="R0" x="1394.2" y="624.9" width="13.8" height="10.0"/>
<rect class="G2" x="1409.5" y="624.9" width="1.7" height="10.0"/>
<rect class="G4" x="1338.3" y="658.6" width="52.9" height="23.3"/>
<rect class="G5" x="1393.2" y="658.6" width="18.1" height="23.3"/>
<rect class="G4" x="1415.3" y="569.6" width="19.9" height="25.8"/>
<rect class="G5" x="1437.3" y="569.6" width="16.9" height="25.8"/>
<rect class="R3" x="1455.9" y="569.6" width="17.4" height="22.5"/>
<rect class="G1" x="1455.9" y="593.8" width="17.4" height="1.6"/>
<rect class="G4" x="1415.3" y="619.4" width="58.0" height="19.5"/>
<rect class="R0" x="1415.3" y="662.6" width="13.8" height="19.3"/>
<rect class="G5" x="1430.8" y="662.6" width="10.8" height="19.3"/>
<rect class="G2" x="1443.3" y="662.6" width="15.8" height="8.8"/>
<rect class="G5" x="1460.9" y="662.6" width="12.3" height="8.8"/>
<rect class="G1" x="1443.3" y="673.4" width="15.8" height="8.5"/>
<rect class="G2" x="1460.9" y="675.1" width="12.3" height="6.8"/>
<rect class="G5" x="1477.0" y="569.6" width="25.4" height="20.8"/>
<rect class="G5" x="1504.0" y="569.6" width="17.9" height="10.3"/>
<rect class="G3" x="1504.0" y="581.6" width="11.8" height="8.8"/>
<rect class="G3" x="1517.6" y="581.6" width="4.3" height="8.8"/>
<rect class="G2" x="1525.6" y="569.6" width="37.4" height="20.8"/>
<rect class="G5" x="1477.0" y="613.6" width="41.9" height="15.3"/>
<rect class="G5" x="1523.1" y="613.6" width="32.9" height="15.3"/>
<rect class="G2" x="1557.7" y="613.6" width="5.3" height="15.3"/>
<rect class="G5" x="1477.0" y="652.6" width="23.9" height="6.3"/>
<rect class="G2" x="1502.5" y="652.6" width="16.4" height="6.3"/>
<rect class="R0" x="1523.1" y="652.6" width="16.6" height="11.3"/>
<rect class="G5" x="1541.2" y="652.6" width="1.8" height="11.3"/>
<rect class="G5" x="1547.2" y="652.6" width="15.8" height="11.3"/>
</svg>
<div class="c d" style="left:19.2px;top:31.1px;width:148.5px;height:213.3px;font-size:24.99px"><p class="p"><span>خودرو</span><span>5%</span></p></div>
<div class="c d" style="left:168.9px;top:31.1px;width:130.2px;height:141.3px;font-size:19.38px"><p class="p"><span>خساپا</span><span>4.98%</span></p></div>
<div class="c" style="left:300.3px;top:31.1px;width:82.9px;height:141.3px;font-size:12.24px"><p class="p"><span>خزاميا</span><span>2.67%</span></p></div>
<div class="c d" style="left:19.2px;top:245.8px;width:148.5px;height:124.1px;font-size:19.38px"><p class="p"><span>خگستر</span><span>6.37%</span></p></div>
<div class="c d" style="left:168.9px;top:173.8px;width:79.1px;height:90.6px;font-size:6.99px"><p class="p"><span>خبهمن</span><span>6.99%</span></p></div>
<div class="c d" style="left:168.9px;top:266.1px;width:79.1px;height:54.8px;font-size:4.08px"><p class="p"><span>خپارس</span><span>6.99%</span></p></div>
<div class="c d" style="left:168.9px;top:322.4px;width:79.1px;height:47.5px;font-size:4.08px"><p class="p"><span>خساپا</span><span>6.94%</span></p></div>
<div class="c d" style="left:249.3px;top:173.8px;width:55.8px;height:58.6px"><p class="n"><span>خنصير</span></p></div>
<div class="c d" style="left:306.5px;top:173.8px;width:39.7px;height:58.6px"><p class="n"><span>خمهر</span></p></div>
<div class="c d" style="left:348.0px;top:173.8px;width:35.2px;height:58.6px"><p class="n"><span>خد...</span></p></div>
<div class="c d" style="left:249.3px;top:234.1px;width:48.8px;height:39.8px"><p class="n"><span>خشرق</span></p></div>
<div class="c d" style="left:299.8px;top:234.1px;width:41.9px;height:39.8px"><p class="n"><span>خاهن</span></p></div>
<div class="c d" style="left:342.9px;top:234.1px;width:40.2px;height:39.8px"><p class="n"><span>خاذين</span></p></div>
<div class="c d" style="left:249.3px;top:275.6px;width:33.7px;height:47.3px"><p class="n"><span>خم...</span></p></div>
<div class="c d" style="left:284.5px;top:275.6px;width:34.7px;height:33.3px"><p class="n"><span>خم...</span></p></div>
<div class="c d" style="left:320.6px;top:275.6px;width:31.7px;height:25.8px"><p class="n"><span>خكار</span></p></div>
<div class="c d" style="left:353.7px;top:275.6px;width:29.5px;height:25.8px"><p class="n"><span>خو...</span></p></div>
<div class="c" style="left:320.6px;top:303.1px;width:31.2px;height:24.3px"><p class="n"><span>خفنر</span></p></div>
<div class="c d" style="left:353.7px;top:303.1px;width:29.5px;height:24.3px"><p class="n"><span>خ...</span></p></div>
<div class="c d" style="left:284.5px;top:310.6px;width:34.7px;height:32.8px"><p class="n"><span>خر...</span></p></div>
<div class="c d" style="left:284.5px;top:345.1px;width:34.7px;height:24.8px"><p class="n"><span>خزر</span></p></div>
<div class="c" style="left:249.3px;top:324.6px;width:33.7px;height:45.3px"><p class="n"><span>خبو...</span></p></div>
<div class="c d" style="left:356.0px;top:329.1px;width:27.2px;height:23.3px"><p class="n"><span>خر...</span></p></div>
<div class="c" style="left:19.2px;top:393.1px;width:286.9px;height:288.8px;font-size:24.99px"><p class="p"><span>وكغدير</span><span>0.61%</span></p></div>
<div class="c" style="left:308.3px;top:393.1px;width:74.8px;height:210.8px;font-size:16.73px"><p class="p"><span>شستا</span><span>1.12%</span></p></div>
<div class="c" style="left:308.3px;top:605.6px;width:43.9px;height:60.3px"><p class="n"><span>وغدير</span></p></div>
<div class="c d" style="left:353.7px;top:605.6px;width:29.5px;height:60.3px"><p class="n"><span>ويا...</span></p></div>
<div class="c d" style="left:386.7px;top:31.1px;width:109.5px;height:92.5px;font-size:10.05px"><p class="p"><span>فارس</span><span>4.92%</span></p></div>
<div class="c" style="left:497.7px;top:31.1px;width:99.8px;height:92.5px;font-size:9.95px"><p class="p"><span>نوري</span><span>-2.77%</span></p></div>
<div class="c" style="left:599.0px;top:31.1px;width:70.0px;height:92.5px;font-size:7.14px;-webkit-text-stroke-width:0.18px"><p class="p"><span>شپديس</span><span>0.32%</span></p></div>
<div class="c" style="left:386.7px;top:125.1px;width:71.2px;height:83.5px;font-size:6.22px;-webkit-text-stroke-width:0.15px"><p class="p"><span>پترول</span><span>-1.61%</span></p></div>
<div class="c" style="left:459.6px;top:125.1px;width:72.7px;height:67.0px;font-size:5.41px;-webkit-text-stroke-width:0.13px"><p class="p"><span>شبصير</span><span>-3.77%</span></p></div>
<div class="c" style="left:534.3px;top:125.1px;width:47.7px;height:67.0px"><p class="n"><span>شيراز</span></p></div>
<div class="c" style="left:583.5px;top:125.1px;width:42.4px;height:67.0px"><p class="n"><span>تاپيكو</span></p></div>
<div class="c" style="left:627.3px;top:125.1px;width:41.7px;height:67.0px"><p class="n"><span>شغدير</span></p></div>
<div class="c" style="left:386.7px;top:210.3px;width:71.2px;height:78.6px;font-size:6.22px;-webkit-text-stroke-width:0.15px"><p class="p"><span>بوعلي</span><span>-1.44%</span></p></div>
<div class="c d" style="left:386.7px;top:290.6px;width:71.2px;height:75.3px;font-size:5.1px"><p class="p"><span>آريا</span><span>4.97%</span></p></div>
<div class="c d" style="left:459.6px;top:193.8px;width:42.1px;height:63.3px"><p class="n"><span>شگويا</span></p></div>
<div class="c d" style="left:459.6px;top:258.8px;width:42.1px;height:53.1px"><p class="n"><span>شسينا</span></p></div>
<div class="c d" style="left:459.6px;top:313.6px;width:42.1px;height:52.3px"><p class="n"><span>شفن</span></p></div>
<div class="c" style="left:503.2px;top:193.8px;width:43.6px;height:42.8px"><p class="n"><span>زاگرس</span></p></div>
<div class="c" style="left:548.4px;top:193.8px;width:41.4px;height:42.8px"><p class="n"><span>كلر</span></p></div>
<div class="c" style="left:591.5px;top:193.8px;width:38.9px;height:42.8px"><p class="n"><span>پارسان</span></p></div>
<div class="c" style="left:632.2px;top:193.8px;width:36.9px;height:42.8px"><p class="n"><span>شيران</span></p></div>
<div class="c d" style="left:503.2px;top:238.3px;width:34.4px;height:41.8px"><p class="n"><span>شم...</span></p></div>
<div class="c d" style="left:539.4px;top:238.3px;width:39.4px;height:34.8px"><p class="n"><span>شفار...</span></p></div>
<div class="c" style="left:580.5px;top:238.3px;width:32.4px;height:30.1px"><p class="n"><span>شگل</span></p></div>
<div class="c d" style="left:644.2px;top:238.3px;width:24.9px;height:30.1px"><p class="n"><span>خ...</span></p></div>
<div class="c" style="left:580.5px;top:270.4px;width:29.6px;height:23.5px"><p class="n"><span>شا...</span></p></div>
<div class="c d" style="left:641.7px;top:270.4px;width:27.4px;height:23.5px"><p class="n"><span>جم</span></p></div>
<div class="c" style="left:503.2px;top:282.1px;width:34.4px;height:41.8px"><p class="n"><span>پارس</span></p></div>
<div class="c" style="left:503.2px;top:325.6px;width:34.4px;height:40.3px"><p class="n"><span>كرم...</span></p></div>
<div class="c" style="left:539.4px;top:275.1px;width:39.4px;height:29.8px"><p class="n"><span>شاراك</span></p></div>
<div class="c d" style="left:539.4px;top:306.6px;width:39.4px;height:29.5px"><p class="n"><span>وپترو</span></p></div>
<div class="c" style="left:539.4px;top:337.8px;width:39.4px;height:28.1px"><p class="n"><span>شكام</span></p></div>
<div class="c" style="left:580.5px;top:295.6px;width:26.7px;height:24.3px"><p class="n"><span>قرن</span></p></div>
<div class="c" style="left:386.7px;top:389.1px;width:159.8px;height:108.3px;font-size:18.05px"><p class="p"><span>فولاد</span><span>-0.16%</span></p></div>
<div class="c" style="left:548.4px;top:389.1px;width:120.7px;height:108.3px;font-size:14.08px"><p class="p"><span>فملي</span><span>-1%</span></p></div>
<div class="c d" style="left:386.7px;top:499.1px;width:92.6px;height:136.8px;font-size:13.11px"><p class="p"><span>ذوب</span><span>4.98%</span></p></div>
<div class="c d" style="left:386.7px;top:637.6px;width:92.6px;height:44.3px;font-size:3.57px"><p class="p"><span>ذوب</span><span>4.98%</span></p></div>
<div class="c" style="left:481.2px;top:499.1px;width:44.9px;height:71.3px"><p class="n"><span>فخوز</span></p></div>
<div class="c" style="left:481.2px;top:572.1px;width:44.9px;height:69.8px"><p class="n"><span>فاسمين</span></p></div>
<div class="c d" style="left:481.2px;top:643.6px;width:44.9px;height:38.3px"><p class="n"><span>ميدكو</span></p></div>
<div class="c" style="left:527.8px;top:499.1px;width:34.9px;height:42.5px"><p class="n"><span>فروژ</span></p></div>
<div class="c" style="left:564.4px;top:499.1px;width:36.4px;height:42.5px"><p class="n"><span>فلوله</span></p></div>
<div class="c" style="left:602.6px;top:499.1px;width:33.4px;height:42.5px"><p class="n"><span>هرمز</span></p></div>
<div class="c" style="left:637.7px;top:499.1px;width:31.4px;height:42.5px"><p class="n"><span>فتو...</span></p></div>
<div class="c" style="left:527.8px;top:543.6px;width:34.9px;height:36.8px"><p class="n"><span>فسپا</span></p></div>
<div class="c d" style="left:527.8px;top:582.1px;width:34.9px;height:36.3px"><p class="n"><span>فمراد</span></p></div>
<div class="c" style="left:527.8px;top:620.1px;width:34.9px;height:30.8px"><p class="n"><span>فجر</span></p></div>
<div class="c" style="left:527.8px;top:652.6px;width:34.9px;height:29.3px"><p class="n"><span>فسر...</span></p></div>
<div class="c d" style="left:564.4px;top:543.6px;width:37.9px;height:26.8px"><p class="n"><span>كيميا</span></p></div>
<div class="c d" style="left:604.1px;top:543.6px;width:32.9px;height:26.8px"><p class="n"><span>زنگان</span></p></div>
<div class="c d" style="left:638.7px;top:543.6px;width:30.4px;height:26.8px"><p class="n"><span>فايرا</span></p></div>
<div class="c" style="left:564.4px;top:572.1px;width:27.6px;height:29.8px"><p class="n"><span>فو...</span></p></div>
<div class="c" style="left:593.5px;top:572.1px;width:24.6px;height:29.8px"><p class="n"><span>و...</span></p></div>
<div class="c" style="left:564.4px;top:603.6px;width:27.6px;height:25.3px"><p class="n"><span>فو...</span></p></div>
<div class="c d" style="left:564.4px;top:631.1px;width:27.9px;height:24.3px"><p class="n"><span>ف...</span></p></div>
<div class="c" style="left:564.4px;top:657.6px;width:27.9px;height:24.3px"><p class="n"><span>ارفع</span></p></div>
<div class="c d" style="left:672.2px;top:31.1px;width:121.9px;height:177.3px;font-size:21.83px"><p class="p"><span>وبصادر</span><span>4.99%</span></p></div>
<div class="c d" style="left:795.8px;top:31.1px;width:102.6px;height:177.3px;font-size:18.97px"><p class="p"><span>دي</span><span>4.99%</span></p></div>
<div class="c" style="left:672.2px;top:210.1px;width:121.9px;height:123.5px;font-size:16.42px"><p class="p"><span>وبملت</span><span>2.8%</span></p></div>
<div class="c" style="left:672.2px;top:335.6px;width:121.9px;height:62.8px;font-size:8.26px;-webkit-text-stroke-width:0.2px"><p class="p"><span>وتجارت</span><span>3.87%</span></p></div>
<div class="c d" style="left:795.8px;top:210.1px;width:55.5px;height:91.5px;font-size:4.59px"><p class="p"><span>وپست</span><span>4.99%</span></p></div>
<div class="c" style="left:853.0px;top:210.1px;width:45.4px;height:91.5px;font-size:4.08px;-webkit-text-stroke-width:0.1px"><p class="p"><span>وپاسار</span><span>1.86%</span></p></div>
<div class="c d" style="left:795.8px;top:303.6px;width:76.7px;height:48.6px;font-size:4.08px"><p class="p"><span>وسينا</span><span>6.99%</span></p></div>
<div class="c d" style="left:874.5px;top:303.6px;width:23.9px;height:48.3px"><p class="n"><span>و...</span></p></div>
<div class="c d" style="left:795.8px;top:354.1px;width:76.7px;height:44.3px"><p class="n"><span>وپارس</span></p></div>
<div class="c d" style="left:874.5px;top:353.8px;width:23.9px;height:26.6px"><p class="n"><span>و...</span></p></div>
<div class="c" style="left:672.2px;top:422.1px;width:120.4px;height:126.8px;font-size:16.12px"><p class="p"><span>شپنا</span><span>-0.22%</span></p></div>
<div class="c" style="left:794.3px;top:422.1px;width:104.1px;height:126.8px;font-size:14.18px"><p class="p"><span>شتران</span><span>1.37%</span></p></div>
<div class="c" style="left:672.2px;top:551.1px;width:81.8px;height:130.8px;font-size:11.02px"><p class="p"><span>شبندر</span><span>0%</span></p></div>
<div class="c" style="left:755.7px;top:551.1px;width:67.5px;height:130.8px;font-size:9.18px"><p class="p"><span>شبريز</span><span>2.65%</span></p></div>
<div class="c d" style="left:824.9px;top:551.1px;width:73.5px;height:44.8px"><p class="n"><span>شاوان</span></p></div>
<div class="c" style="left:824.9px;top:597.6px;width:44.4px;height:50.8px"><p class="n"><span>ونفت</span></p></div>
<div class="c" style="left:902.3px;top:31.1px;width:54.0px;height:103.5px;font-size:6.38px;-webkit-text-stroke-width:0.16px"><p class="p"><span>غديس</span><span>-3.19%</span></p></div>
<div class="c" style="left:902.3px;top:136.3px;width:54.0px;height:63.3px;font-size:4.08px;-webkit-text-stroke-width:0.1px"><p class="p"><span>غبهنوش</span><span>0.09%</span></p></div>
<div class="c d" style="left:958.3px;top:31.1px;width:51.0px;height:43.8px"><p class="n"><span>غاذر</span></p></div>
<div class="c" style="left:958.3px;top:76.6px;width:51.0px;height:42.3px"><p class="n"><span>غزر</span></p></div>
<div class="c d" style="left:958.3px;top:120.6px;width:51.0px;height:41.3px"><p class="n"><span>غكورش</span></p></div>
<div class="c" style="left:958.3px;top:163.8px;width:51.0px;height:35.8px"><p class="n"><span>غگرجي</span></p></div>
<div class="c" style="left:1009.9px;top:31.1px;width:38.1px;height:40.0px"><p class="n"><span>غدانه</span></p></div>
<div class="c d" style="left:1049.7px;top:31.1px;width:37.0px;height:40.0px"><p class="n"><span>غب...</span></p></div>
<div class="c" style="left:1088.4px;top:31.1px;width:35.6px;height:40.0px"><p class="n"><span>غويتا</span></p></div>
<div class="c d" style="left:1125.8px;top:31.1px;width:33.9px;height:40.0px"><p class="n"><span>غپينو</span></p></div>
<div class="c d" style="left:1009.9px;top:72.8px;width:30.9px;height:41.8px"><p class="n"><span>غ...</span></p></div>
<div class="c" style="left:1009.9px;top:116.3px;width:30.9px;height:41.1px"><p class="n"><span>غگل</span></p></div>
<div class="c d" style="left:1009.9px;top:159.1px;width:30.9px;height:40.5px"><p class="n"><span>غ...</span></p></div>
<div class="c d" style="left:1042.5px;top:72.8px;width:40.4px;height:29.6px"><p class="n"><span>غشه...</span></p></div>
<div class="c" style="left:1084.6px;top:72.8px;width:37.9px;height:29.6px"><p class="n"><span>غدام</span></p></div>
<div class="c d" style="left:1124.2px;top:72.8px;width:35.4px;height:29.6px"><p class="n"><span>وب...</span></p></div>
<div class="c d" style="left:1042.5px;top:104.1px;width:32.9px;height:32.0px"><p class="n"><span>غم...</span></p></div>
<div class="c" style="left:1077.1px;top:104.1px;width:27.9px;height:33.8px"><p class="n"><span>غ...</span></p></div>
<div class="c d" style="left:1106.7px;top:104.1px;width:27.1px;height:33.8px"><p class="n"><span>به...</span></p></div>
<div class="c d" style="left:1135.6px;top:104.1px;width:24.1px;height:33.8px"><p class="n"><span>غ...</span></p></div>
<div class="c" style="left:1042.5px;top:137.8px;width:32.9px;height:30.1px"><p class="n"><span>غالبر</span></p></div>
<div class="c" style="left:1042.5px;top:169.6px;width:32.9px;height:30.0px"><p class="n"><span>غد...</span></p></div>
<div class="c d" style="left:1077.1px;top:139.6px;width:24.6px;height:30.8px"><p class="n"><span>غ...</span></p></div>
<div class="c" style="left:1077.1px;top:172.1px;width:24.6px;height:27.5px"><p class="n"><span>غ...</span></p></div>
<div class="c" style="left:1163.4px;top:31.1px;width:94.1px;height:103.0px;font-size:11.12px"><p class="p"><span>كرمان</span><span>2.15%</span></p></div>
<div class="c" style="left:1163.4px;top:135.9px;width:94.1px;height:63.7px;font-size:6.22px;-webkit-text-stroke-width:0.15px"><p class="p"><span>وآذر</span><span>-3.29%</span></p></div>
<div class="c" style="left:1259.2px;top:31.1px;width:53.7px;height:33.8px"><p class="n"><span>ثاخت</span></p></div>
<div class="c" style="left:1314.6px;top:31.1px;width:49.8px;height:33.8px"><p class="n"><span>ثبهساز</span></p></div>
<div class="c d" style="left:1259.2px;top:66.8px;width:38.2px;height:43.1px"><p class="n"><span>ثجنو...</span></p></div>
<div class="c" style="left:1299.1px;top:66.8px;width:36.6px;height:43.1px"><p class="n"><span>ثعمرا</span></p></div>
<div class="c d" style="left:1337.4px;top:66.8px;width:26.9px;height:43.1px"><p class="n"><span>ثغ...</span></p></div>
<div class="c" style="left:1259.2px;top:111.8px;width:38.2px;height:29.1px"><p class="n"><span>ثم...</span></p></div>
<div class="c d" style="left:1299.1px;top:111.8px;width:32.6px;height:25.6px"><p class="n"><span>ثنو...</span></p></div>
<div class="c" style="left:1333.4px;top:111.8px;width:30.9px;height:25.6px"><p class="n"><span>ثرود</span></p></div>
<div class="c d" style="left:1259.2px;top:142.8px;width:38.2px;height:28.8px"><p class="n"><span>ثاميد</span></p></div>
<div class="c" style="left:1259.2px;top:173.4px;width:38.2px;height:26.2px"><p class="n"><span>ثامان</span></p></div>
<div class="c" style="left:1299.1px;top:139.4px;width:23.4px;height:34.2px"><p class="n"><span>آ...</span></p></div>
<div class="c" style="left:1299.1px;top:175.4px;width:23.4px;height:24.2px"><p class="n"><span>ثا...</span></p></div>
<div class="c d" style="left:1367.7px;top:31.1px;width:98.8px;height:88.8px;font-size:10.1px"><p class="p"><span>فرابورس</span><span>6.95%</span></p></div>
<div class="c d" style="left:1367.7px;top:121.6px;width:98.8px;height:78.0px;font-size:7.85px"><p class="p"><span>بورس</span><span>4.35%</span></p></div>
<div class="c" style="left:1468.2px;top:31.1px;width:95.1px;height:76.3px;font-size:8.06px;-webkit-text-stroke-width:0.2px"><p class="p"><span>كالا</span><span>2.75%</span></p></div>
<div class="c d" style="left:1468.2px;top:109.1px;width:53.5px;height:90.5px;font-size:4.59px"><p class="p"><span>انرژي3</span><span>6.99%</span></p></div>
<div class="c d" style="left:1523.4px;top:109.1px;width:39.9px;height:66.8px"><p class="n"><span>تنوين</span></p></div>
<div class="c d" style="left:1523.4px;top:177.8px;width:19.9px;height:21.8px"><p class="n"><span>ا...</span></p></div>
<div class="c d" style="left:902.3px;top:223.1px;width:48.8px;height:88.0px;font-size:4.59px"><p class="p"><span>وسپه</span><span>6.98%</span></p></div>
<div class="c" style="left:902.3px;top:313.1px;width:48.8px;height:64.3px"><p class="n"><span>وخارزم</span></p></div>
<div class="c d" style="left:952.8px;top:223.1px;width:49.0px;height:41.8px"><p class="n"><span>وكبهمن</span></p></div>
<div class="c" style="left:1003.4px;top:223.1px;width:40.8px;height:41.8px"><p class="n"><span>پرديس</span></p></div>
<div class="c" style="left:1046.0px;top:223.1px;width:39.4px;height:41.8px"><p class="n"><span>سرچ...</span></p></div>
<div class="c d" style="left:952.8px;top:267.4px;width:31.6px;height:49.7px"><p class="n"><span>وط...</span></p></div>
<div class="c d" style="left:952.8px;top:318.8px;width:31.6px;height:28.8px"><p class="n"><span>وبه...</span></p></div>
<div class="c" style="left:952.8px;top:349.4px;width:31.6px;height:28.0px"><p class="n"><span>سد...</span></p></div>
<div class="c d" style="left:986.2px;top:267.4px;width:33.2px;height:25.5px"><p class="n"><span>وصنا</span></p></div>
<div class="c" style="left:1021.2px;top:267.4px;width:33.6px;height:25.5px"><p class="n"><span>وب...</span></p></div>
<div class="c" style="left:1056.5px;top:267.4px;width:28.9px;height:25.5px"><p class="n"><span>صبا</span></p></div>
<div class="c" style="left:986.2px;top:295.1px;width:25.1px;height:25.8px"><p class="n"><span>وا...</span></p></div>
<div class="c" style="left:1012.2px;top:295.1px;width:26.6px;height:25.3px"><p class="n"><span>و...</span></p></div>
<div class="c" style="left:1040.5px;top:295.1px;width:22.4px;height:25.3px"><p class="n"><span>و...</span></p></div>
<div class="c" style="left:986.2px;top:323.1px;width:25.1px;height:26.8px"><p class="n"><span>وا...</span></p></div>
<div class="c d" style="left:986.2px;top:351.6px;width:25.1px;height:25.8px"><p class="n"><span>و...</span></p></div>
<div class="c" style="left:1088.9px;top:223.1px;width:79.8px;height:59.8px;font-size:5.2px;-webkit-text-stroke-width:0.13px"><p class="p"><span>ومعادن</span><span>0.16%</span></p></div>
<div class="c" style="left:1088.9px;top:284.8px;width:79.8px;height:45.1px;font-size:4.08px;-webkit-text-stroke-width:0.1px"><p class="p"><span>كگل</span><span>0.27%</span></p></div>
<div class="c" style="left:1170.4px;top:223.1px;width:62.0px;height:43.5px"><p class="n"><span>كاما</span></p></div>
<div class="c" style="left:1234.1px;top:223.1px;width:32.9px;height:43.5px"><p class="n"><span>كدما</span></p></div>
<div class="c d" style="left:1170.4px;top:268.6px;width:35.4px;height:33.3px"><p class="n"><span>كم...</span></p></div>
<div class="c" style="left:1170.4px;top:303.6px;width:35.4px;height:26.3px"><p class="n"><span>كچاد</span></p></div>
<div class="c d" style="left:1207.5px;top:268.6px;width:31.4px;height:27.5px"><p class="n"><span>كرو...</span></p></div>
<div class="c" style="left:1240.6px;top:268.6px;width:26.4px;height:27.5px"><p class="n"><span>ك...</span></p></div>
<div class="c d" style="left:1270.7px;top:223.1px;width:48.8px;height:61.5px"><p class="n"><span>زملارد</span></p></div>
<div class="c d" style="left:1270.7px;top:286.6px;width:48.8px;height:43.3px"><p class="n"><span>تليسه</span></p></div>
<div class="c" style="left:1320.8px;top:223.1px;width:37.9px;height:38.6px"><p class="n"><span>سپيد</span></p></div>
<div class="c" style="left:1360.4px;top:223.1px;width:34.6px;height:38.6px"><p class="n"><span>زك...</span></p></div>
<div class="c d" style="left:1320.8px;top:263.8px;width:27.9px;height:32.3px"><p class="n"><span>ز...</span></p></div>
<div class="c" style="left:1350.4px;top:263.8px;width:23.4px;height:32.3px"><p class="n"><span>ز...</span></p></div>
<div class="c" style="left:1375.4px;top:263.8px;width:22.9px;height:25.1px"><p class="n"><span>ز...</span></p></div>
<div class="c" style="left:1400.0px;top:263.8px;width:22.9px;height:25.1px"><p class="n"><span>ز...</span></p></div>
<div class="c d" style="left:1320.8px;top:298.1px;width:27.9px;height:31.8px"><p class="n"><span>ز...</span></p></div>
<div class="c" style="left:1350.4px;top:298.1px;width:23.4px;height:31.8px"><p class="n"><span>ز...</span></p></div>
<div class="c d" style="left:1375.4px;top:290.8px;width:25.4px;height:21.6px"><p class="n"><span>ز...</span></p></div>
<div class="c d" style="left:1426.3px;top:223.1px;width:46.2px;height:54.1px"><p class="n"><span>رانفور</span></p></div>
<div class="c d" style="left:1426.3px;top:279.1px;width:46.2px;height:50.8px"><p class="n"><span>رتاپ</span></p></div>
<div class="c d" style="left:1474.3px;top:223.1px;width:49.0px;height:34.8px"><p class="n"><span>افرا</span></p></div>
<div class="c" style="left:1524.9px;top:223.1px;width:38.4px;height:34.8px"><p class="n"><span>توسن</span></p></div>
<div class="c" style="left:1474.3px;top:260.1px;width:29.4px;height:35.3px"><p class="n"><span>تا...</span></p></div>
<div class="c d" style="left:1474.3px;top:297.4px;width:29.4px;height:32.5px"><p class="n"><span>رافزا</span></p></div>
<div class="c" style="left:1505.9px;top:260.1px;width:27.9px;height:30.8px"><p class="n"><span>آپ</span></p></div>
<div class="c" style="left:1536.0px;top:260.1px;width:27.4px;height:30.8px"><p class="n"><span>م...</span></p></div>
<div class="c" style="left:1088.9px;top:353.6px;width:51.2px;height:107.3px;font-size:6.22px;-webkit-text-stroke-width:0.15px"><p class="p"><span>حكشتي</span><span>-0.36%</span></p></div>
<div class="c" style="left:1141.8px;top:353.6px;width:35.1px;height:46.0px"><p class="n"><span>حآ...</span></p></div>
<div class="c" style="left:1178.9px;top:353.6px;width:34.4px;height:46.0px"><p class="n"><span>حفا...</span></p></div>
<div class="c d" style="left:1141.8px;top:401.6px;width:25.1px;height:34.3px"><p class="n"><span>ح...</span></p></div>
<div class="c" style="left:1141.8px;top:437.6px;width:25.1px;height:23.3px"><p class="n"><span>ح...</span></p></div>
<div class="c d" style="left:1168.9px;top:401.6px;width:21.9px;height:23.3px"><p class="n"><span>ح...</span></p></div>
<div class="c d" style="left:1217.2px;top:353.6px;width:77.5px;height:78.8px;font-size:8.06px"><p class="p"><span>گدنا</span><span>4.13%</span></p></div>
<div class="c" style="left:1296.8px;top:353.6px;width:45.4px;height:68.3px;font-size:3.88px;-webkit-text-stroke-width:0.1px"><p class="p"><span>سمگا</span><span>1.94%</span></p></div>
<div class="c d" style="left:1345.4px;top:353.6px;width:97.1px;height:78.8px;font-size:9.69px"><p class="p"><span>اخابر</span><span>7%</span></p></div>
<div class="c d" style="left:1463.7px;top:353.6px;width:49.5px;height:78.8px;font-size:4.08px"><p class="p"><span>فلز</span><span>4.98%</span></p></div>
<div class="c" style="left:1515.2px;top:353.6px;width:48.2px;height:40.5px"><p class="n"><span>فاراك</span></p></div>
<div class="c" style="left:902.3px;top:401.1px;width:44.7px;height:94.3px;font-size:5.3px;-webkit-text-stroke-width:0.13px"><p class="p"><span>بركت</span><span>-2.45%</span></p></div>
<div class="c" style="left:902.3px;top:497.4px;width:44.7px;height:43.5px"><p class="n"><span>ديران</span></p></div>
<div class="c d" style="left:948.8px;top:401.1px;width:37.4px;height:32.8px"><p class="n"><span>دتوليد</span></p></div>
<div class="c" style="left:987.9px;top:401.1px;width:31.8px;height:32.8px"><p class="n"><span>دك...</span></p></div>
<div class="c d" style="left:1021.4px;top:401.1px;width:31.4px;height:32.8px"><p class="n"><span>د...</span></p></div>
<div class="c" style="left:1054.5px;top:401.1px;width:30.9px;height:32.8px"><p class="n"><span>دلر</span></p></div>
<div class="c d" style="left:948.8px;top:435.8px;width:29.4px;height:26.1px"><p class="n"><span>دع...</span></p></div>
<div class="c d" style="left:948.8px;top:463.8px;width:29.4px;height:26.3px"><p class="n"><span>شفا</span></p></div>
<div class="c" style="left:948.8px;top:492.1px;width:29.4px;height:23.3px"><p class="n"><span>بخ...</span></p></div>
<div class="c d" style="left:948.8px;top:517.1px;width:29.4px;height:23.8px"><p class="n"><span>والبر</span></p></div>
<div class="c" style="left:979.9px;top:435.8px;width:26.3px;height:21.6px"><p class="n"><span>د...</span></p></div>
<div class="c" style="left:1008.2px;top:435.8px;width:26.6px;height:21.6px"><p class="n"><span>در...</span></p></div>
<div class="c" style="left:1036.5px;top:435.8px;width:24.6px;height:21.6px"><p class="n"><span>د...</span></p></div>
<div class="c" style="left:1062.8px;top:435.8px;width:22.7px;height:21.6px"><p class="n"><span>د...</span></p></div>
<div class="c d" style="left:902.3px;top:565.1px;width:58.8px;height:72.8px;font-size:4.59px"><p class="p"><span>سصفها</span><span>5%</span></p></div>
<div class="c d" style="left:902.3px;top:639.8px;width:58.8px;height:42.1px"><p class="n"><span>سبزوا</span></p></div>
<div class="c d" style="left:962.8px;top:565.1px;width:34.1px;height:33.8px"><p class="n"><span>سنير</span></p></div>
<div class="c" style="left:962.8px;top:600.8px;width:34.1px;height:27.1px"><p class="n"><span>سكرد</span></p></div>
<div class="c" style="left:962.8px;top:629.9px;width:34.1px;height:26.0px"><p class="n"><span>ارد...</span></p></div>
<div class="c" style="left:962.8px;top:657.9px;width:34.1px;height:24.0px"><p class="n"><span>سفا...</span></p></div>
<div class="c" style="left:1088.9px;top:484.6px;width:42.1px;height:54.3px"><p class="n"><span>دانا</span></p></div>
<div class="c d" style="left:1088.9px;top:540.9px;width:42.1px;height:33.0px"><p class="n"><span>البرز</span></p></div>
<div class="c" style="left:1132.8px;top:484.6px;width:29.6px;height:32.5px"><p class="n"><span>تو...</span></p></div>
<div class="c d" style="left:1164.1px;top:484.6px;width:26.7px;height:32.5px"><p class="n"><span>بنو</span></p></div>
<div class="c" style="left:1088.9px;top:597.6px;width:39.1px;height:55.8px"><p class="n"><span>كسرا</span></p></div>
<div class="c d" style="left:1088.9px;top:655.4px;width:39.1px;height:26.5px"><p class="n"><span>كاذر</span></p></div>
<div class="c" style="left:1129.8px;top:597.6px;width:29.1px;height:34.8px"><p class="n"><span>ك...</span></p></div>
<div class="c" style="left:1160.6px;top:597.6px;width:26.5px;height:34.8px"><p class="n"><span>ك...</span></p></div>
<div class="c" style="left:1129.8px;top:634.4px;width:29.1px;height:27.5px"><p class="n"><span>ك...</span></p></div>
<div class="c d" style="left:1217.2px;top:456.1px;width:42.7px;height:33.3px"><p class="n"><span>بجهرم</span></p></div>
<div class="c d" style="left:1217.2px;top:491.4px;width:42.7px;height:25.5px"><p class="n"><span>بزاگرس</span></p></div>
<div class="c d" style="left:1261.7px;top:456.1px;width:22.4px;height:30.8px"><p class="n"><span>و...</span></p></div>
<div class="c d" style="left:1261.7px;top:488.8px;width:22.4px;height:28.1px"><p class="n"><span>آ...</span></p></div>
<div class="c" style="left:1217.2px;top:540.6px;width:33.7px;height:59.3px"><p class="n"><span>قچار</span></p></div>
<div class="c d" style="left:1252.7px;top:540.6px;width:40.4px;height:34.8px"><p class="n"><span>قثابت</span></p></div>
<div class="c d" style="left:1252.7px;top:577.4px;width:40.4px;height:22.5px"><p class="n"><span>قصفها</span></p></div>
<div class="c d" style="left:1217.2px;top:624.1px;width:48.0px;height:57.8px;font-size:4.08px"><p class="p"><span>هاي‌وب</span><span>6.73%</span></p></div>
<div class="c" style="left:1267.0px;top:624.1px;width:31.6px;height:57.8px"><p class="n"><span>اوان</span></p></div>
<div class="c" style="left:1300.3px;top:624.1px;width:34.9px;height:36.8px"><p class="n"><span>اس...</span></p></div>
<div class="c d" style="left:1338.6px;top:456.1px;width:47.1px;height:50.8px"><p class="n"><span>بترانس</span></p></div>
<div class="c d" style="left:1387.5px;top:456.1px;width:30.9px;height:50.8px"><p class="n"><span>بكا...</span></p></div>
<div class="c" style="left:1422.1px;top:456.1px;width:43.9px;height:42.3px"><p class="n"><span>انتخاب</span></p></div>
<div class="c" style="left:1422.1px;top:500.4px;width:25.9px;height:29.2px"><p class="n"><span>ت...</span></p></div>
<div class="c d" style="left:1494.5px;top:456.1px;width:34.7px;height:57.3px"><p class="n"><span>پتاير</span></p></div>
<div class="c" style="left:1530.9px;top:456.1px;width:32.4px;height:57.3px"><p class="n"><span>پدر...</span></p></div>
<div class="c d" style="left:1338.3px;top:569.6px;width:42.1px;height:35.0px"><p class="n"><span>ولسايا</span></p></div>
<div class="c" style="left:1338.3px;top:606.6px;width:42.1px;height:28.3px"><p class="n"><span>ولبهمن</span></p></div>
<div class="c d" style="left:1338.3px;top:658.6px;width:52.9px;height:23.3px"><p class="n"><span>رمپنا</span></p></div>
</body></html>
